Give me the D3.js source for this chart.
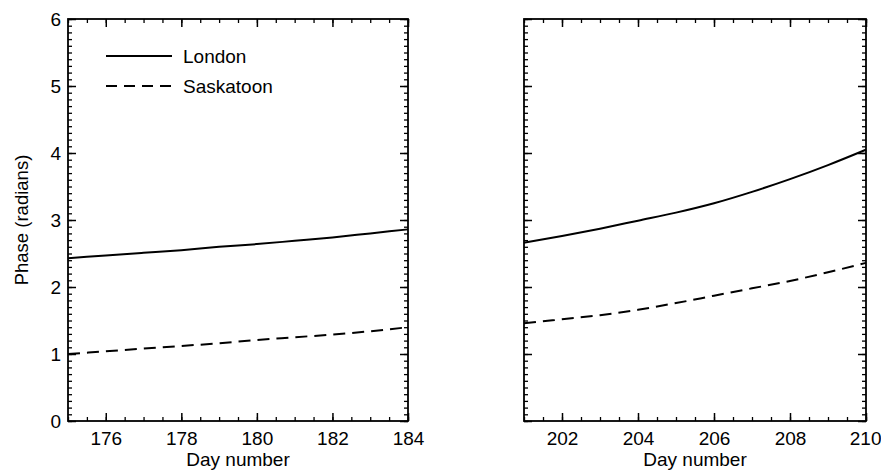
<!DOCTYPE html>
<html>
<head>
<meta charset="utf-8">
<script src="https://cdn.jsdelivr.net/npm/d3@7"></script>
<style>
  body { margin: 0; background: #fff; }
  svg { font-family: "Liberation Sans", Arial, sans-serif; }
  .tick text { font-size: 19px; fill: #000; }
</style>
</head>
<body>
<div id="chart"></div>
<script>
// days for each panel
const daysLeft = [175, 176, 177, 178, 179, 180, 181, 182, 183, 184];
const daysRight = [201, 202, 203, 204, 205, 206, 207, 208, 209, 210];

// phase values (radians)
const londonLeft = [2.43, 2.47, 2.51, 2.55, 2.60, 2.64, 2.69, 2.74, 2.80, 2.86];
const saskLeft = [1.00, 1.04, 1.08, 1.12, 1.16, 1.21, 1.25, 1.29, 1.34, 1.40];
const londonRight = [2.66, 2.76, 2.87, 2.99, 3.11, 3.25, 3.42, 3.61, 3.82, 4.05];
const saskRight = [1.46, 1.52, 1.58, 1.66, 1.76, 1.87, 1.98, 2.09, 2.22, 2.36];

const ticksLeft = [176, 178, 180, 182, 184];
const ticksRight = [202, 204, 206, 208, 210];
const yTicks = [0, 1, 2, 3, 4, 5, 6];

const width = 881, height = 473;
const plotTop = 19, plotBottom = 421;

const svg = d3.select("#chart")
  .append("svg")
  .attr("width", width)
  .attr("height", height);

const y = d3.scaleLinear().domain([0, 6]).range([plotBottom, plotTop]);

const line = d3.line().curve(d3.curveMonotoneX);

function panel(x0, x1, days, london, sask, ticks, showY) {
  const x = d3.scaleLinear().domain(d3.extent(days)).range([x0, x1]);
  const minorX = d3.range(days[0], days[days.length - 1] + 0.001, 0.5);
  const minorY = d3.range(0, 6.001, 0.1).map(v => Math.round(v * 10) / 10);

  const g = svg.append("g");

  // minor ticks, all four sides
  const minor = [
    [d3.axisBottom(x).tickValues(minorX), `translate(0,${plotBottom})`],
    [d3.axisTop(x).tickValues(minorX), `translate(0,${plotTop})`],
    [d3.axisLeft(y).tickValues(minorY), `translate(${x0},0)`],
    [d3.axisRight(y).tickValues(minorY), `translate(${x1},0)`]
  ];
  minor.forEach(([ax, tr]) => {
    g.append("g").attr("transform", tr)
      .call(ax.tickSize(-4).tickFormat(""))
      .call(s => s.select(".domain").remove())
      .selectAll("line").attr("stroke", "#000").attr("stroke-width", 1.3);
  });

  // major ticks
  const major = [
    [d3.axisBottom(x).tickValues(ticks).tickFormat(d3.format("d")).tickPadding(11), `translate(0,${plotBottom})`],
    [d3.axisTop(x).tickValues(ticks).tickFormat(""), `translate(0,${plotTop})`],
    [d3.axisLeft(y).tickValues(yTicks).tickFormat(showY ? d3.format("d") : "").tickPadding(7), `translate(${x0},0)`],
    [d3.axisRight(y).tickValues(yTicks).tickFormat(""), `translate(${x1},0)`]
  ];
  const axes = major.map(([ax, tr]) => {
    const a = g.append("g").attr("transform", tr)
      .call(ax.tickSize(-8))
      .call(s => s.select(".domain").remove());
    a.selectAll("line").attr("stroke", "#000").attr("stroke-width", 1.5);
    return a;
  });

  // keep the last x label inside the window
  if (x1 + 16 > width) {
    axes[0].selectAll(".tick text")
      .filter(d => d === ticks[ticks.length - 1])
      .attr("text-anchor", "end")
      .attr("x", width - x1);
  }

  g.append("rect")
    .attr("x", x0).attr("y", plotTop)
    .attr("width", x1 - x0).attr("height", plotBottom - plotTop)
    .attr("fill", "none").attr("stroke", "#000").attr("stroke-width", 1.8);

  g.append("path")
    .attr("d", line(days.map((d, i) => [x(d), y(london[i])])))
    .attr("fill", "none").attr("stroke", "#000").attr("stroke-width", 2);

  g.append("path")
    .attr("d", line(days.map((d, i) => [x(d), y(sask[i])])))
    .attr("fill", "none").attr("stroke", "#000").attr("stroke-width", 2)
    .attr("stroke-dasharray", "12,7");

  g.append("text")
    .attr("x", (x0 + x1) / 2).attr("y", 466)
    .attr("text-anchor", "middle")
    .style("font-size", "19px")
    .text("Day number");
}

panel(68, 408, daysLeft, londonLeft, saskLeft, ticksLeft, true);
panel(524, 866, daysRight, londonRight, saskRight, ticksRight, false);

svg.append("text")
  .attr("transform", `translate(28,${(plotTop + plotBottom) / 2}) rotate(-90)`)
  .attr("text-anchor", "middle")
  .style("font-size", "18.5px")
  .text("Phase (radians)");

// legend
const legend = [
  { name: "London", dash: null, y: 56 },
  { name: "Saskatoon", dash: "11,7", y: 86 }
];
const lg = svg.append("g");
legend.forEach(d => {
  lg.append("line")
    .attr("x1", 106).attr("x2", 172)
    .attr("y1", d.y).attr("y2", d.y)
    .attr("stroke", "#000").attr("stroke-width", 2)
    .attr("stroke-dasharray", d.dash);
  lg.append("text")
    .attr("x", 183).attr("y", d.y + 7)
    .style("font-size", "19px")
    .text(d.name);
});
</script>
</body>
</html>
